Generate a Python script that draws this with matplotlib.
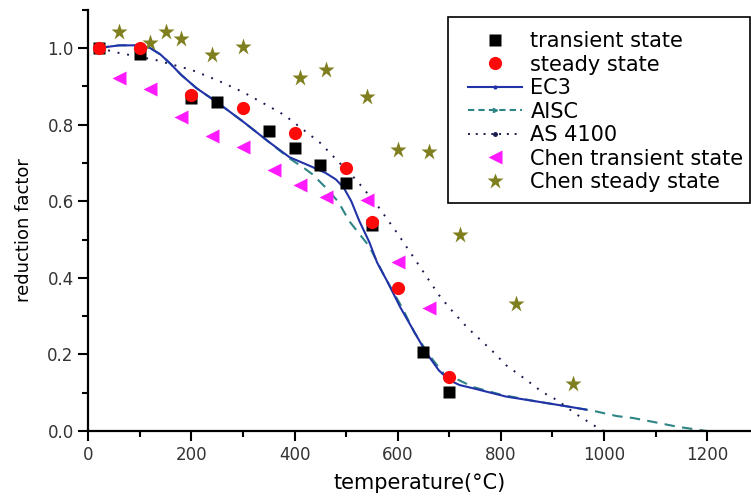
import numpy as np
import matplotlib.pyplot as plt
from matplotlib.lines import Line2D
from matplotlib.patches import Rectangle
from matplotlib.ticker import MultipleLocator

# test results
temp_tr = [20, 100, 200, 250, 350, 400, 450, 500, 550, 650, 700]
transient = [1.0, 0.985, 0.869, 0.858, 0.783, 0.739, 0.695, 0.648, 0.538, 0.206, 0.102]
temp_st = [20, 100, 200, 300, 400, 500, 550, 600, 700]
steady = [1.0, 1.0, 0.877, 0.843, 0.778, 0.687, 0.546, 0.373, 0.141]

# Chen's data
temp_ct = [60, 120, 180, 240, 300, 360, 410, 460, 540, 600, 660]
chen_tr = [0.922, 0.893, 0.82, 0.77, 0.742, 0.681, 0.642, 0.611, 0.603, 0.441, 0.321]
temp_cs = [60, 120, 150, 180, 240, 300, 410, 460, 540, 600, 660, 720, 830, 940]
chen_st = [1.042, 1.013, 1.042, 1.023, 0.982, 1.003, 0.922, 0.943, 0.872, 0.734, 0.728, 0.512, 0.332, 0.123]

# design codes
ec3_t = [20, 60, 100, 120, 140, 160, 180, 210, 250, 300, 350, 390, 430, 460, 480, 495, 510,
         525, 545, 560, 580, 605, 630, 655, 680, 700, 720, 745, 810, 875, 930, 965]
ec3 = [1.0, 1.007, 1.007, 1.0, 0.983, 0.958, 0.93, 0.895, 0.858, 0.808, 0.755, 0.715, 0.692, 0.674,
       0.657, 0.636, 0.6, 0.55, 0.493, 0.44, 0.39, 0.323, 0.264, 0.205, 0.158, 0.133, 0.12, 0.112,
       0.09, 0.076, 0.064, 0.056]
aisc_t = [20, 60, 100, 120, 140, 160, 180, 210, 250, 300, 350, 390, 420, 435, 463, 485, 506, 529, 545,
          575, 609, 632, 660, 692, 711, 746, 800, 870, 930, 982, 1025, 1056, 1095, 1143, 1200]
aisc = [1.0, 1.007, 1.007, 1.0, 0.983, 0.958, 0.93, 0.895, 0.858, 0.808, 0.755, 0.712, 0.685, 0.67, 0.632,
        0.598, 0.548, 0.509, 0.482, 0.402, 0.321, 0.258, 0.2, 0.145, 0.138, 0.115, 0.095, 0.077, 0.064,
        0.052, 0.039, 0.034, 0.024, 0.011, 0.0]
as_t = [20, 60, 130, 200, 250, 300, 350, 380, 410, 450, 480, 520, 560, 600, 640, 680, 700,
        735, 785, 810, 850, 880, 910, 945, 980, 1000]
as4100 = [1.0, 0.987, 0.969, 0.943, 0.916, 0.885, 0.848, 0.825, 0.794, 0.752, 0.71, 0.655, 0.59,
          0.515, 0.435, 0.355, 0.322, 0.27, 0.207, 0.172, 0.133, 0.102, 0.08, 0.045, 0.015, 0.0]

W, H = 751, 496
fig = plt.figure(figsize=(W / 100, H / 100), dpi=100)
ax = fig.add_axes([0.1176, 0.131, 0.8823, 0.8494])

ec3_col = '#2233a8'
aisc_col = '#2f8585'
as_col = '#1a1a50'

ax.plot(ec3_t, ec3, '-', color=ec3_col, lw=1.5, zorder=3)
ax.plot(aisc_t, aisc, color=aisc_col, lw=1.5, ls=(0, (5, 3.5)), zorder=2)
ax.plot(as_t, as4100, color=as_col, lw=1.4, ls=(0, (1, 4)), zorder=2)

ax.plot(temp_ct, chen_tr, '<', color='#ff1aff', ms=10, mec='none', zorder=4)
ax.plot(temp_cs, chen_st, '*', color='#7f7f1f', ms=12.5, mec='none', zorder=4)
ax.plot(temp_tr, transient, 's', color='black', ms=8, mec='none', zorder=5)
ax.plot(temp_st, steady, 'o', color='#ff0a0a', ms=9.5, mec='none', zorder=5)

ax.set_xlim(0, 1285)
ax.set_ylim(0, 1.1)
ax.xaxis.set_major_locator(MultipleLocator(200))
ax.xaxis.set_minor_locator(MultipleLocator(100))
ax.yaxis.set_major_locator(MultipleLocator(0.2))
ax.yaxis.set_minor_locator(MultipleLocator(0.1))
ax.yaxis.set_major_formatter(plt.FormatStrFormatter('%.1f'))

for s in ['top', 'right']:
    ax.spines[s].set_visible(False)
for s in ['left', 'bottom']:
    ax.spines[s].set_linewidth(1.6)

ax.tick_params(which='major', direction='out', length=7, width=1.5, labelsize=12,
               labelcolor='#333333')
ax.tick_params(which='minor', direction='out', length=4, width=1.5)

ax.set_xlabel('temperature(°C)', fontsize=15, labelpad=7)
ax.set_ylabel('reduction factor', fontsize=13)
ax.yaxis.set_label_coords(-0.083, 0.477)

handles = [
    Line2D([], [], ls='none', marker='s', color='black', ms=8, mec='none'),
    Line2D([], [], ls='none', marker='o', color='#ff0a0a', ms=9.5, mec='none'),
    Line2D([], [], color=ec3_col, lw=1.5, marker='.', ms=4, markevery=[1]),
    Line2D([], [], color=aisc_col, lw=1.5, ls=(0, (3, 2)), marker='>', ms=3, markevery=[1]),
    Line2D([], [], color=as_col, lw=1.4, ls=(0, (1, 3)), marker='.', ms=5, markevery=[1]),
    Line2D([], [], ls='none', marker='<', color='#ff1aff', ms=10, mec='none'),
    Line2D([], [], ls='none', marker='*', color='#7f7f1f', ms=12, mec='none'),
]
labels = ['transient state', 'steady state', 'EC3', 'AISC', 'AS 4100',
          'Chen transient state', 'Chen steady state']
# legend without its own frame; box drawn separately (narrow right margin)
ax.legend(handles, labels, loc='upper left', bbox_to_anchor=(468 / W, 1 - 31 / H),
          bbox_transform=fig.transFigure, borderaxespad=0, borderpad=0, fontsize=15,
          labelspacing=0.17, handlelength=2.6, handletextpad=0.4, frameon=False)
fig.patches.append(Rectangle((448 / W, 1 - 203 / H), 302 / W, 186 / H,
                             transform=fig.transFigure, fill=False,
                             edgecolor='black', linewidth=1.2, zorder=6))

fig.savefig('out.png', dpi=100)
